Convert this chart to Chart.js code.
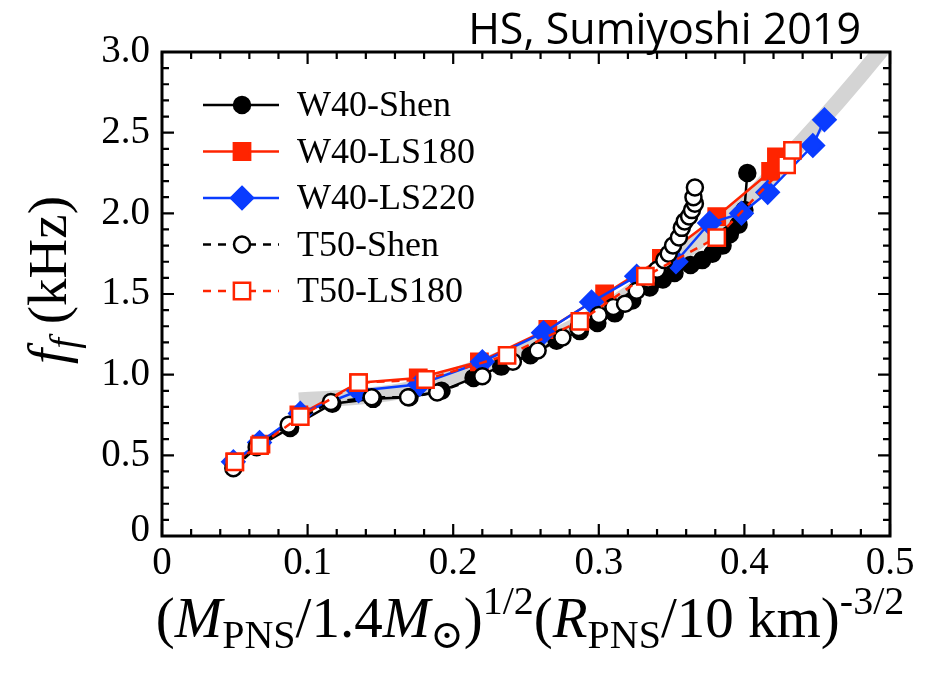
<!DOCTYPE html>
<html>
<head>
<meta charset="utf-8">
<script src="https://cdn.jsdelivr.net/npm/chart.js@4/dist/chart.umd.min.js"></script>
<style>
  html, body { margin: 0; padding: 0; background: #fff; }
  canvas { display: block; }
</style>
</head>
<body>
<canvas id="fChart" width="929" height="674"></canvas>
<script>
// --- Data ---
const xTicks = [0, 0.1, 0.2, 0.3, 0.4, 0.5];
const xTickLabels = ['0', '0.1', '0.2', '0.3', '0.4', '0.5'];
const yTicks = [0, 0.5, 1.0, 1.5, 2.0, 2.5, 3.0];
const yTickLabels = ['0', '0.5', '1.0', '1.5', '2.0', '2.5', '3.0'];

// grey fit band
const bandX = [0.094, 0.13, 0.165, 0.2, 0.25, 0.3, 0.337, 0.37, 0.4, 0.43, 0.465, 0.493, 0.51];
const bandY = [0.84, 0.86, 0.90, 0.99, 1.16, 1.38, 1.61, 1.84, 2.06, 2.35, 2.70, 3.0, 3.2];

const w40ShenX = [0.050, 0.067, 0.088, 0.117, 0.145, 0.170, 0.192, 0.214, 0.233, 0.253, 0.271, 0.287, 0.299,
                  0.311, 0.323, 0.335, 0.344, 0.352, 0.363, 0.371, 0.378, 0.385, 0.390, 0.396, 0.400, 0.402];
const w40ShenY = [0.44, 0.56, 0.67, 0.82, 0.85, 0.86, 0.90, 0.98, 1.05, 1.12, 1.21, 1.27, 1.32,
                  1.38, 1.46, 1.54, 1.59, 1.63, 1.68, 1.71, 1.75, 1.80, 1.87, 1.93, 2.02, 2.25];

const w40Ls180X = [0.050, 0.068, 0.094, 0.135, 0.176, 0.218, 0.265, 0.304, 0.343, 0.381, 0.418, 0.422];
const w40Ls180Y = [0.46, 0.57, 0.75, 0.95, 0.98, 1.08, 1.28, 1.50, 1.72, 1.98, 2.26, 2.35];

const w40Ls220X = [0.049, 0.067, 0.095, 0.135, 0.177, 0.220, 0.262, 0.295, 0.326, 0.353, 0.376, 0.398, 0.416, 0.447, 0.455];
const w40Ls220Y = [0.46, 0.58, 0.76, 0.90, 0.94, 1.08, 1.26, 1.45, 1.61, 1.70, 1.94, 2.00, 2.13, 2.42, 2.58];

const t50ShenX = [0.049, 0.065, 0.087, 0.116, 0.144, 0.169, 0.189, 0.220, 0.241, 0.258, 0.275, 0.286, 0.300, 0.310, 0.318,
                  0.326, 0.334, 0.340, 0.345, 0.348, 0.351, 0.355, 0.357, 0.359, 0.362, 0.364, 0.366, 0.365, 0.366];
const t50ShenY = [0.42, 0.55, 0.69, 0.83, 0.86, 0.86, 0.89, 0.99, 1.08, 1.15, 1.23, 1.29, 1.37, 1.42, 1.44,
                  1.52, 1.59, 1.65, 1.71, 1.75, 1.80, 1.85, 1.91, 1.95, 1.98, 2.02, 2.06, 2.10, 2.16];

const t50Ls180X = [0.050, 0.067, 0.095, 0.135, 0.181, 0.237, 0.287, 0.332, 0.381, 0.429, 0.433];
const t50Ls180Y = [0.46, 0.56, 0.74, 0.95, 0.97, 1.12, 1.33, 1.61, 1.85, 2.30, 2.39];

document.addEventListener('DOMContentLoaded', () => {
    const RED = '#ff2400';
    const BLUE = '#0a3cff';
    const SERIF = '"Liberation Serif", "DejaVu Serif", serif';

    // --- Helper Functions ---
    const toPoints = (xs, ys) => xs.map((x, i) => ({ x, y: ys[i] }));

    const series = [
        { label: 'T50-LS180', x: t50Ls180X, y: t50Ls180Y, color: RED, fill: '#fff', style: 'rect', radius: 11.5, dash: [8, 7] },
        { label: 'T50-Shen', x: t50ShenX, y: t50ShenY, color: '#000', fill: '#fff', style: 'circle', radius: 8, dash: [8, 7] },
        { label: 'W40-LS220', x: w40Ls220X, y: w40Ls220Y, color: BLUE, fill: BLUE, style: 'rectRot', radius: 11, dash: [] },
        { label: 'W40-LS180', x: w40Ls180X, y: w40Ls180Y, color: RED, fill: RED, style: 'rect', radius: 11.5, dash: [] },
        { label: 'W40-Shen', x: w40ShenX, y: w40ShenY, color: '#000', fill: '#000', style: 'circle', radius: 8, dash: [] }
    ];
    const legendOrder = ['W40-Shen', 'W40-LS180', 'W40-LS220', 'T50-Shen', 'T50-LS180'];

    const drawMarker = (ctx, s, x, y) => {
        ctx.save();
        ctx.setLineDash([]);
        ctx.fillStyle = s.fill;
        ctx.strokeStyle = s.color;
        ctx.lineWidth = 2.5;
        ctx.beginPath();
        if (s.style === 'circle') {
            ctx.arc(x, y, s.radius, 0, Math.PI * 2);
        } else if (s.style === 'rect') {
            const h = s.radius * Math.SQRT1_2;
            ctx.rect(x - h, y - h, 2 * h, 2 * h);
        } else {
            ctx.moveTo(x, y - s.radius);
            ctx.lineTo(x + s.radius, y);
            ctx.lineTo(x, y + s.radius);
            ctx.lineTo(x - s.radius, y);
            ctx.closePath();
        }
        ctx.fill();
        ctx.stroke();
        ctx.restore();
    };

    // rich text: [text, italic, sizeFactor, dyFactor]
    const richWidth = (ctx, segs, size) => segs.reduce((w, s) => {
        ctx.font = `${s[1] ? 'italic ' : ''}${Math.round(size * s[2])}px ${SERIF}`;
        return w + ctx.measureText(s[0]).width;
    }, 0);
    const drawRich = (ctx, segs, size, cx, baseY) => {
        let x = cx - richWidth(ctx, segs, size) / 2;
        ctx.textAlign = 'left';
        ctx.textBaseline = 'alphabetic';
        segs.forEach(s => {
            ctx.font = `${s[1] ? 'italic ' : ''}${Math.round(size * s[2])}px ${SERIF}`;
            ctx.fillText(s[0], x, baseY + s[3] * size);
            x += ctx.measureText(s[0]).width;
        });
    };

    const xTitle = [
        ['(', false, 1, 0], ['M', true, 1, 0], ['PNS', false, 0.7, 0.2], ['/1.4', false, 1, 0],
        ['M', true, 1, 0], ['\u2299', false, 0.7, 0.2], [')', false, 1, 0], ['1/2', false, 0.7, -0.4],
        ['(', false, 1, 0], ['R', true, 1, 0], ['PNS', false, 0.7, 0.2], ['/10 km)', false, 1, 0],
        ['-3/2', false, 0.7, -0.4]
    ];
    const yTitle = [['f', true, 1, 0], ['f', true, 0.7, 0.2], [' (kHz)', false, 1, 0]];

    // --- Axes frame, inward ticks, labels, legend ---
    const framePlugin = {
        id: 'frame',
        afterDatasetsDraw(chart) {
            const { ctx, chartArea: a, scales } = chart;
            const xs = scales.x, ys = scales.y;
            ctx.save();
            ctx.strokeStyle = '#000';
            ctx.lineWidth = 3;
            ctx.strokeRect(a.left, a.top, a.right - a.left, a.bottom - a.top);

            ctx.lineWidth = 2.2;
            ctx.beginPath();
            for (let i = 0; i <= 25; i++) {
                const v = i * 0.02;
                const px = xs.getPixelForValue(v);
                const len = i % 5 === 0 ? 12 : 7;
                ctx.moveTo(px, a.bottom); ctx.lineTo(px, a.bottom - len);
                ctx.moveTo(px, a.top); ctx.lineTo(px, a.top + len);
            }
            for (let i = 0; i <= 30; i++) {
                const v = i * 0.1;
                const py = ys.getPixelForValue(v);
                const len = i % 5 === 0 ? 12 : 7;
                ctx.moveTo(a.left, py); ctx.lineTo(a.left + len, py);
                ctx.moveTo(a.right, py); ctx.lineTo(a.right - len, py);
            }
            ctx.stroke();

            // tick labels
            ctx.fillStyle = '#000';
            ctx.font = `39px ${SERIF}`;
            ctx.textAlign = 'center';
            ctx.textBaseline = 'top';
            xTicks.forEach((v, i) => ctx.fillText(xTickLabels[i], xs.getPixelForValue(v), a.bottom + 8));
            ctx.textAlign = 'right';
            ctx.textBaseline = 'middle';
            yTicks.forEach((v, i) => ctx.fillText(yTickLabels[i], a.left - 12, ys.getPixelForValue(v) - (v === 0 ? 5 : 0)));

            // axis titles
            drawRich(ctx, xTitle, 57, 530, 637);
            ctx.save();
            ctx.translate(66, 280);
            ctx.rotate(-Math.PI / 2);
            drawRich(ctx, yTitle, 55, 0, 0);
            ctx.restore();

            // header
            ctx.font = '43px "Open Sans", sans-serif';
            ctx.textAlign = 'right';
            ctx.textBaseline = 'alphabetic';
            ctx.fillText('HS, Sumiyoshi 2019', 861, 44);

            // legend
            legendOrder.forEach((name, i) => {
                const s = series.find(d => d.label === name);
                const y = 105 + i * 46.5;
                ctx.save();
                ctx.strokeStyle = s.color;
                ctx.lineWidth = 2.5;
                ctx.setLineDash(s.dash);
                ctx.beginPath();
                ctx.moveTo(203, y); ctx.lineTo(279, y);
                ctx.stroke();
                ctx.restore();
                drawMarker(ctx, s, 242, y);
                ctx.fillStyle = '#000';
                ctx.font = `36px ${SERIF}`;
                ctx.textAlign = 'left';
                ctx.textBaseline = 'middle';
                ctx.fillText(name, 297, y + 2);
            });
            ctx.restore();
        }
    };

    // --- Chart Initialization ---
    const datasets = series.map((s, i) => ({
        label: s.label,
        data: toPoints(s.x, s.y),
        showLine: true,
        borderColor: s.color,
        borderWidth: 2.5,
        borderDash: s.dash,
        backgroundColor: s.fill,
        pointStyle: s.style,
        pointRadius: s.radius,
        pointBorderWidth: 2.5,
        pointBorderColor: s.color,
        pointBackgroundColor: s.fill,
        order: i
    }));
    datasets.push({
        label: 'fit',
        data: toPoints(bandX, bandY),
        showLine: true,
        borderColor: '#d4d4d4',
        borderWidth: 16,
        borderCapStyle: 'butt',
        pointRadius: 0,
        tension: 0.3,
        order: 10
    });

    new Chart(document.getElementById('fChart'), {
        type: 'scatter',
        data: { datasets },
        options: {
            responsive: false,
            animation: false,
            devicePixelRatio: 1,
            layout: { padding: { left: 162, top: 52, right: 39, bottom: 138 } },
            plugins: { legend: { display: false }, tooltip: { enabled: false } },
            scales: {
                x: { type: 'linear', min: 0, max: 0.5, display: false },
                y: { type: 'linear', min: 0, max: 3.0, display: false }
            }
        },
        plugins: [framePlugin]
    });
});
</script>
</body>
</html>
